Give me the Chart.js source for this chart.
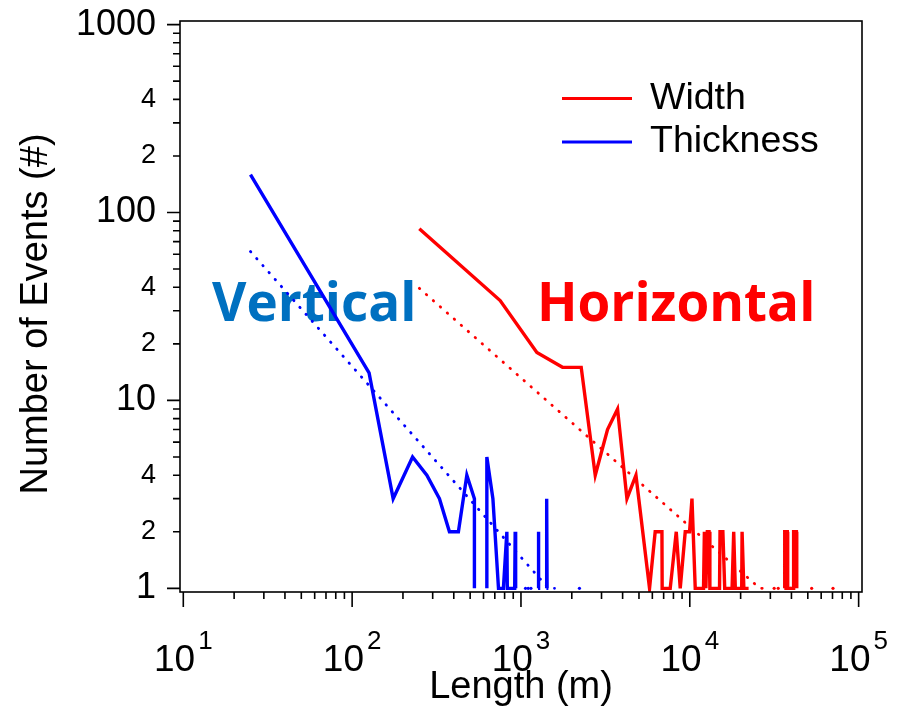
<!DOCTYPE html>
<html>
<head>
<meta charset="utf-8">
<title>Events by length</title>
<script src="https://cdn.jsdelivr.net/npm/chart.js@4.4.0/dist/chart.umd.min.js"></script>
<style>
	html, body { margin: 0; padding: 0; background: #fff; }
	#wrap { width: 905px; height: 707px; }
</style>
</head>
<body>
<div id="wrap"><canvas id="eventsChart" width="905" height="707"></canvas></div>
<script>
	// Width histogram (horizontal events), null = break in the line
	var widthLength = [250, 753, 1242, 1762, 2274, 2754, 3256, 3733, 4243, 4798, 5775,
		6237, 6839, 6860, 7656, 8314, 8777, 9397, 9966, 10300, 10770, 12060, 12200, 12450,
		12700, 13000, 13150, 15000, 15100, 15700, 16100, 17800, 18200, 18600, 20300, 20400,
		20900, 22300, null, 36300, 36500, 37800, 38000, 41000, 41200, 42800, 43000];
	var widthCount = [82, 34, 18, 15, 15, 4, 7, 9, 3, 4, 1,
		2, 2, 1, 1, 2, 1, 2, 2, 3, 1, 1, 2, 1,
		2, 2, 1, 1, 2, 2, 1, 1, 2, 1, 1, 2,
		1, 1, null, 1, 2, 2, 1, 1, 2, 2, 1];

	// Thickness histogram (vertical events)
	var thicknessLength = [25, 126, 175, 228, 277, 329, 377, 426, 478, 530, 530, null,
		628, 628, 682, 736, 787, 825, 830, 918, 924, 930, null, 1262, 1268, 1275, null,
		1415, 1420, 1428];
	var thicknessCount = [159, 14, 3, 5, 4, 3, 2, 2, 4, 3, 1, null,
		1, 5, 3, 1, 1, 2, 1, 1, 2, 1, null, 1, 2, 1, null,
		1, 3, 1];

	// Power-law fits (dotted)
	var widthFitLength = [250, 26000, 28000];
	var widthFitCount = [39.5, 1, 1];
	var thicknessFitLength = [25, 1456, 1580];
	var thicknessFitCount = [62, 1, 1];

	// Single events left on the base line by the fits
	var widthTailLength = [31600, 33400, 39600, 52700, 70500];
	var widthTailCount = [1, 1, 1, 1, 1];
	var thicknessTailLength = [1064, 1104, 1146, 2220];
	var thicknessTailCount = [1, 1, 1, 1];

	// Axis ticks
	var yTickValues = [1, 2, 3, 4, 5, 6, 7, 8, 9, 10, 20, 30, 40, 50, 60, 70, 80, 90,
		100, 200, 300, 400, 500, 600, 700, 800, 900, 1000];
	var yMajorTicks = [1, 10, 100, 1000];
	var yLabelledTicks = [1, 2, 4, 10, 20, 40, 100, 200, 400, 1000];
	var xDecades = [10, 100, 1000, 10000, 100000];
	var xExponents = ['1', '2', '3', '4', '5'];
	var xTickValues = [];
	xDecades.forEach(function (d, i) {
		if (i === xDecades.length - 1) { xTickValues.push(d); return; }
		for (var k = 1; k < 10; k++) xTickValues.push(d * k);
	});

	var SANS = '"Liberation Sans", Arial, sans-serif';
	var RED = '#ff0000', BLUE = '#0000ff';

	function toPoints(xs, ys) {
		return xs.map(function (x, i) {
			return { x: x === null ? NaN : x, y: ys[i] };
		});
	}

	/**
	 * Frame, outward tick marks, x decade labels and y title
	 */
	var axisDecor = {
		id: 'axisDecor',
		afterDraw: function (chart) {
			var ctx = chart.ctx, area = chart.chartArea;
			var xs = chart.scales.x, ys = chart.scales.y;
			ctx.save();
			ctx.strokeStyle = '#000';
			ctx.lineWidth = 1.6;
			ctx.strokeRect(area.left, area.top, area.right - area.left, area.bottom - area.top);

			ctx.beginPath();
			yTickValues.forEach(function (v) {
				var py = ys.getPixelForValue(v);
				var len = yMajorTicks.indexOf(v) >= 0 ? 13 : 7;
				ctx.moveTo(area.left - len, py);
				ctx.lineTo(area.left, py);
			});
			xTickValues.forEach(function (v) {
				var px = xs.getPixelForValue(v);
				var len = xDecades.indexOf(v) >= 0 ? 15 : 7;
				ctx.moveTo(px, area.bottom);
				ctx.lineTo(px, area.bottom + len);
			});
			ctx.stroke();

			// 10^n labels
			ctx.fillStyle = '#000';
			ctx.textBaseline = 'alphabetic';
			ctx.textAlign = 'left';
			xDecades.forEach(function (v, i) {
				var px = xs.getPixelForValue(v);
				ctx.font = '37px ' + SANS;
				var wBase = ctx.measureText('10').width;
				ctx.font = '26px ' + SANS;
				var wExp = ctx.measureText(xExponents[i]).width;
				var start = px - (wBase + wExp + 3) / 2;
				ctx.font = '37px ' + SANS;
				ctx.fillText('10', start, 671);
				ctx.font = '26px ' + SANS;
				ctx.fillText(xExponents[i], start + wBase + 3, 649);
			});

			// y title
			ctx.translate(37, 314);
			ctx.rotate(-Math.PI / 2);
			ctx.textAlign = 'center';
			ctx.textBaseline = 'middle';
			ctx.font = '38px ' + SANS;
			ctx.fillText('Number of Events (#)', 0, 0);
			ctx.restore();
		}
	};

	/**
	 * Region labels, under the data lines
	 */
	var regionLabels = {
		id: 'regionLabels',
		beforeDatasetsDraw: function (chart) {
			var ctx = chart.ctx;
			ctx.save();
			ctx.font = 'bold 53px "Open Sans", sans-serif';
			ctx.textAlign = 'left';
			ctx.textBaseline = 'alphabetic';
			ctx.fillStyle = '#0070c0';
			ctx.fillText('Vertical', 212, 321);
			ctx.fillStyle = RED;
			ctx.fillText('Horizontal', 537, 321);
			ctx.restore();
		}
	};

	/**
	 * Legend inside the plot, top right
	 */
	var lineLegend = {
		id: 'lineLegend',
		afterDatasetsDraw: function (chart) {
			var ctx = chart.ctx;
			var items = [
				{ text: chart.data.datasets[0].label, color: RED, y: 98.5 },
				{ text: chart.data.datasets[1].label, color: BLUE, y: 142 }
			];
			ctx.save();
			ctx.lineWidth = 3;
			ctx.font = '37.5px ' + SANS;
			ctx.textBaseline = 'middle';
			ctx.textAlign = 'left';
			items.forEach(function (it) {
				ctx.strokeStyle = it.color;
				ctx.beginPath();
				ctx.moveTo(562, it.y);
				ctx.lineTo(632, it.y);
				ctx.stroke();
				ctx.fillStyle = '#000';
				ctx.fillText(it.text, 650, it.y);
			});
			ctx.restore();
		}
	};

	var eventsChart = new Chart(document.getElementById('eventsChart'), {
		type: 'scatter',
		data: {
			datasets: [
				{
					label: 'Width',
					data: toPoints(widthLength, widthCount),
					showLine: true,
					borderColor: RED,
					borderWidth: 3.4,
					pointRadius: 0,
					spanGaps: false
				},
				{
					label: 'Thickness',
					data: toPoints(thicknessLength, thicknessCount),
					showLine: true,
					borderColor: BLUE,
					borderWidth: 3.4,
					pointRadius: 0,
					spanGaps: false
				},
				{
					label: 'Width fit',
					data: toPoints(widthFitLength, widthFitCount),
					showLine: true,
					borderColor: RED,
					borderWidth: 2.8,
					borderDash: [0.5, 8.8],
					borderCapStyle: 'round',
					pointRadius: 0
				},
				{
					label: 'Thickness fit',
					data: toPoints(thicknessFitLength, thicknessFitCount),
					showLine: true,
					borderColor: BLUE,
					borderWidth: 2.8,
					borderDash: [0.5, 8.8],
					borderCapStyle: 'round',
					pointRadius: 0
				},
				{
					label: 'Width fit tail',
					data: toPoints(widthTailLength, widthTailCount),
					pointRadius: 1.6,
					pointBorderWidth: 0,
					pointBackgroundColor: RED
				},
				{
					label: 'Thickness fit tail',
					data: toPoints(thicknessTailLength, thicknessTailCount),
					pointRadius: 1.6,
					pointBorderWidth: 0,
					pointBackgroundColor: BLUE
				}
			]
		},
		options: {
			responsive: false,
			animation: false,
			devicePixelRatio: 1,
			layout: { padding: { left: 0, top: 21, right: 43, bottom: 0 } },
			plugins: {
				legend: { display: false },
				tooltip: { enabled: false }
			},
			scales: {
				x: {
					type: 'logarithmic',
					min: 9.56,
					max: 104700,
					grid: { display: false },
					border: { display: false },
					ticks: { display: false },
					afterBuildTicks: function (scale) {
						scale.ticks = xTickValues.map(function (v) { return { value: v }; });
					},
					afterFit: function (scale) {
						scale.height = 115;
						scale.paddingLeft = 0;
						scale.paddingRight = 0;
					},
					title: {
						display: true,
						text: 'Length (m)',
						color: '#000',
						font: { family: SANS, size: 38, lineHeight: 1.0 },
						padding: { top: 0, bottom: 0 }
					}
				},
				y: {
					type: 'logarithmic',
					min: 0.956,
					max: 1045,
					grid: { display: false },
					border: { display: false },
					afterBuildTicks: function (scale) {
						scale.ticks = yTickValues.map(function (v) { return { value: v }; });
					},
					afterFit: function (scale) {
						scale.width = 180;
						scale.paddingTop = 0;
						scale.paddingBottom = 0;
					},
					ticks: {
						autoSkip: false,
						padding: 16,
						color: '#000',
						font: function (c) {
							var major = c.tick && yMajorTicks.indexOf(c.tick.value) >= 0;
							return { family: SANS, size: major ? 36 : 27 };
						},
						callback: function (value) {
							if (yLabelledTicks.indexOf(value) < 0) return '';
							if (yMajorTicks.indexOf(value) >= 0) return String(value);
							// minor labels show only the mantissa
							return String(Math.round(value / Math.pow(10, Math.floor(Math.log10(value) + 1e-9))));
						}
					}
				}
			}
		},
		plugins: [regionLabels, lineLegend, axisDecor]
	});
</script>
</body>
</html>
